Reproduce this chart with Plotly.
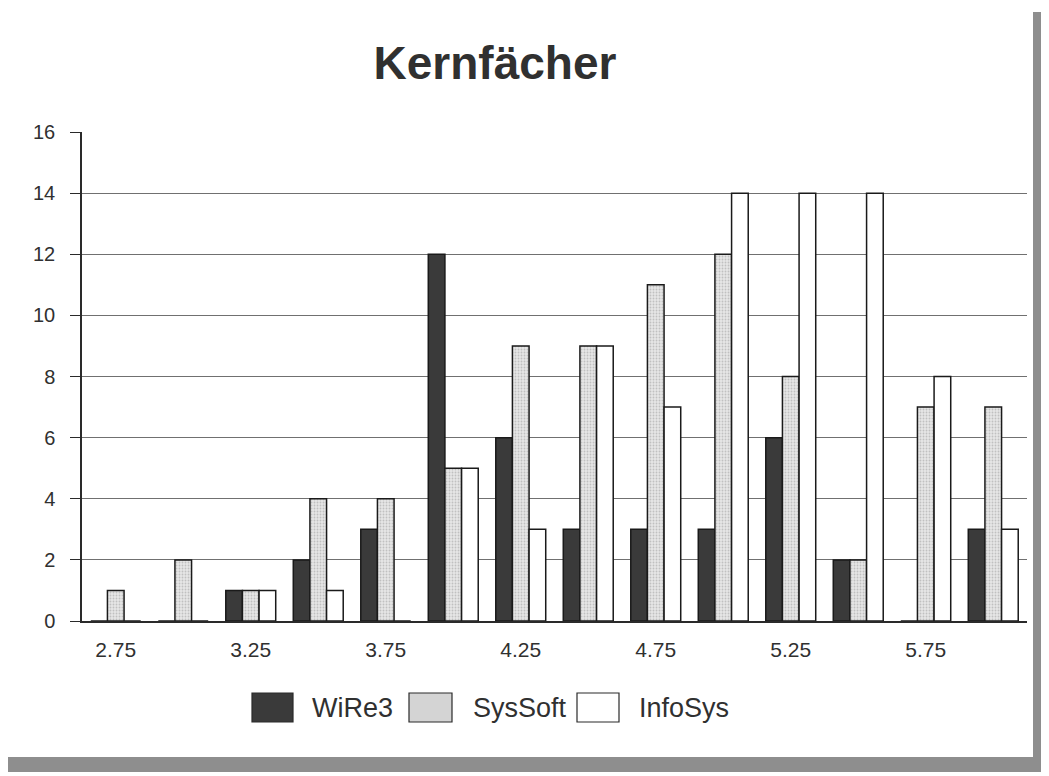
import plotly.graph_objects as go

# ---- data ----
categories = [2.75, 3.0, 3.25, 3.5, 3.75, 4.0, 4.25, 4.5, 4.75, 5.0, 5.25, 5.5, 5.75, 6.0]
wire3 = [0, 0, 1, 2, 3, 12, 6, 3, 3, 3, 6, 2, 0, 3]
syssoft = [1, 2, 1, 4, 4, 5, 9, 9, 11, 12, 8, 2, 7, 7]
infosys = [0, 0, 1, 1, 0, 5, 3, 9, 7, 14, 14, 14, 8, 3]
series_names = ["WiRe3", "SysSoft", "InfoSys"]
x_tick_vals = [2.75, 3.25, 3.75, 4.25, 4.75, 5.25, 5.75]
x_tick_text = ["2.75", "3.25", "3.75", "4.25", "4.75", "5.25", "5.75"]
y_tick_vals = [0, 2, 4, 6, 8, 10, 12, 14, 16]
title_text = "Kernfächer"

# ---- layout geometry (page pixels; the page body has an 8px margin) ----
OFF = 8
PAGE_W, PAGE_H = 1049, 776
W, H = PAGE_W - OFF, PAGE_H - OFF
L, R, T, B = 82 - OFF, 1027 - OFF, 132 - OFF, 621 - OFF
FONT = "Liberation Sans, Arial, Helvetica, sans-serif"
TXT = "#303030"
DARK = "#3a3a3a"

def px(xp):
    return (xp - OFF - L) / (R - L)

def py(yp):
    return (B - (yp - OFF)) / (B - T)

line = dict(color="#1a1a1a", width=1.5)
fig = go.Figure()
fig.add_trace(go.Bar(x=categories, y=wire3, name=series_names[0],
                     marker=dict(color=DARK, line=line)))
fig.add_trace(go.Bar(x=categories, y=syssoft, name=series_names[1],
                     marker=dict(color="#dcdcdc", line=line,
                                 pattern=dict(shape=".", fgcolor="#9a9a9a",
                                              bgcolor="#e6e6e6", size=3, solidity=0.3))))
fig.add_trace(go.Bar(x=categories, y=infosys, name=series_names[2],
                     marker=dict(color="#ffffff", line=line)))

shapes = []
# scan border bands
shapes.append(dict(type="rect", xref="paper", yref="paper",
                   x0=px(0), x1=px(PAGE_W), y0=py(772), y1=py(757),
                   fillcolor="#8e8e8e", line=dict(width=0), layer="below"))
shapes.append(dict(type="rect", xref="paper", yref="paper",
                   x0=px(1033), x1=px(PAGE_W), y0=py(772), y1=py(12),
                   fillcolor="#8e8e8e", line=dict(width=0), layer="below"))

# custom legend
legend_boxes = [(252, 293), (409, 452), (577, 619)]
legend_text_x = [310, 471, 637]
legend_fill = [DARK, "#d4d4d4", "#ffffff"]
annotations = []
for i, name in enumerate(series_names):
    x0, x1 = legend_boxes[i]
    shapes.append(dict(type="rect", xref="paper", yref="paper",
                       x0=px(x0), x1=px(x1), y0=py(722), y1=py(693),
                       fillcolor=legend_fill[i], line=dict(color="#2a2a2a", width=1.2)))
    annotations.append(dict(xref="paper", yref="paper", x=px(legend_text_x[i]), y=py(708),
                            text=name, showarrow=False, xanchor="left", yanchor="middle",
                            font=dict(family=FONT, size=27, color=TXT)))

fig.update_layout(
    width=W, height=H,
    margin=dict(l=L, r=W - R, t=T, b=H - B, pad=0),
    paper_bgcolor="#ffffff", plot_bgcolor="#ffffff",
    barmode="group", bargap=0.26, bargroupgap=0,
    showlegend=False,
    title=dict(text="<b>" + title_text + "</b>", x=(495 - OFF) / W, xanchor="center",
               y=1 - (63 - OFF) / H, yanchor="middle",
               font=dict(family=FONT, size=46, color=TXT)),
    font=dict(family=FONT, color=TXT),
    shapes=shapes, annotations=annotations,
)
fig.update_xaxes(range=[2.625, 6.125], tickmode="array", tickvals=x_tick_vals,
                 ticktext=x_tick_text, showgrid=False, zeroline=False,
                 showline=True, linecolor="#2a2a2a", linewidth=1.5,
                 ticks="", ticklabelstandoff=9,
                 tickfont=dict(family=FONT, size=21, color=TXT))
fig.update_yaxes(range=[0, 16], tickmode="array", tickvals=y_tick_vals,
                 showgrid=True, gridcolor="#707070", gridwidth=1, zeroline=False,
                 showline=True, linecolor="#2a2a2a", linewidth=1.5,
                 ticks="outside", ticklen=10, tickcolor="#2a2a2a", tickwidth=1,
                 ticklabelstandoff=11,
                 tickfont=dict(family=FONT, size=20, color=TXT))

fig.write_html("out.html")
